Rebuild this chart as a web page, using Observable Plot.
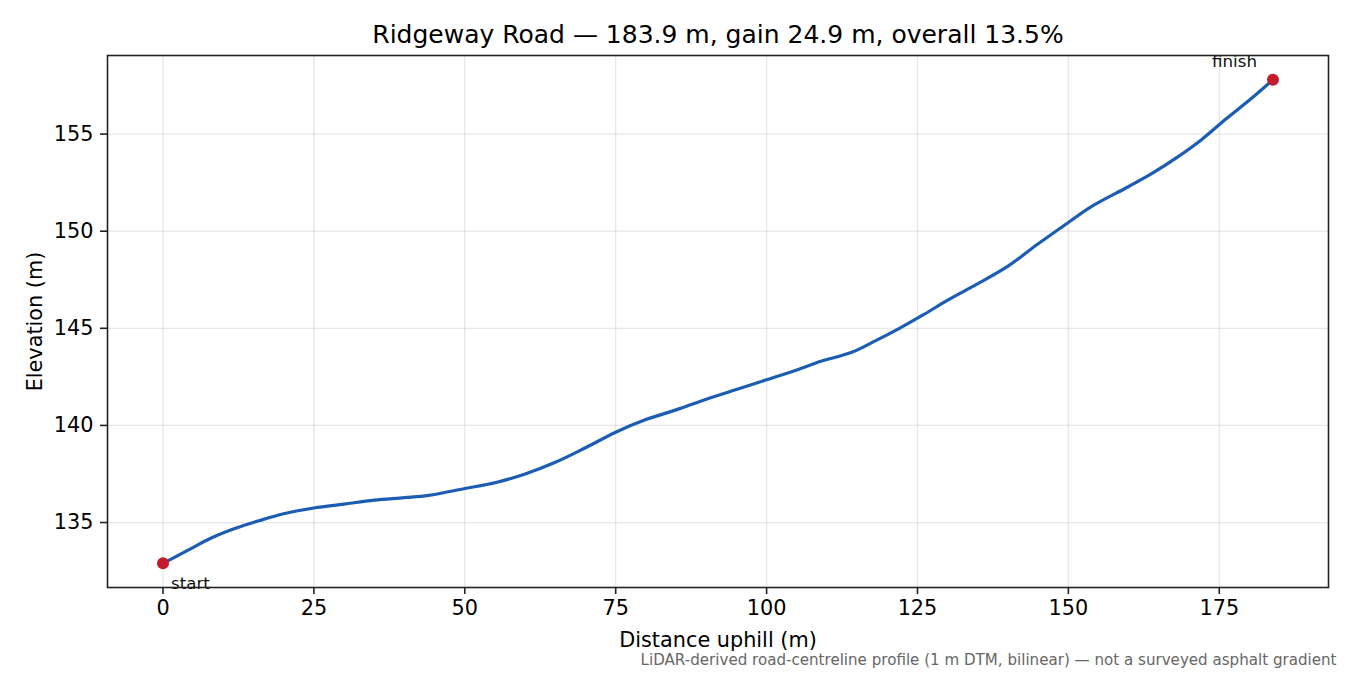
<!DOCTYPE html>
<html>
<head>
<meta charset="utf-8">
<script src="https://cdn.jsdelivr.net/npm/d3@7"></script>
<script src="https://cdn.jsdelivr.net/npm/@observablehq/plot@0.6"></script>
<style>
  html, body { margin: 0; padding: 0; background: #fff; }
  svg { display: block; }
</style>
</head>
<body>
<div id="chart"></div>
<script>
const distance = [0, 4, 8, 12, 16, 20, 25, 30, 35, 40, 44, 50, 55, 60, 65, 70, 75, 80, 85, 90, 95, 100, 105, 109, 114, 118, 122, 126, 130, 135, 140, 145, 150, 154, 160, 164, 168, 172, 176, 180, 183.9];
const elevation = [132.9, 133.55, 134.2, 134.7, 135.1, 135.45, 135.75, 135.95, 136.15, 136.28, 136.4, 136.75, 137.05, 137.5, 138.1, 138.85, 139.65, 140.3, 140.8, 141.35, 141.85, 142.35, 142.85, 143.3, 143.75, 144.35, 145.0, 145.7, 146.45, 147.3, 148.2, 149.35, 150.45, 151.3, 152.3, 153.0, 153.8, 154.7, 155.75, 156.75, 157.8];
const xTicks = [0, 25, 50, 75, 100, 125, 150, 175];
const yTicks = [135, 140, 145, 150, 155];
const endpointLabels = ["start", "finish"];
const titleText = "Ridgeway Road — 183.9 m, gain 24.9 m, overall 13.5%";
const xLabel = "Distance uphill (m)";
const yLabel = "Elevation (m)";
const captionText = "LiDAR-derived road-centreline profile (1 m DTM, bilinear) — not a surveyed asphalt gradient";

const profile = distance.map((d, i) => ({d, e: elevation[i]}));
const n = profile.length;
const startPt = {...profile[0], label: endpointLabels[0]};
const finishPt = {...profile[n - 1], label: endpointLabels[1]};

const dMin = d3.min(distance), dMax = d3.max(distance);
const eMin = d3.min(elevation), eMax = d3.max(elevation);
const xPad = (dMax - dMin) * 0.05, yPad = (eMax - eMin) * 0.05;

const chart = Plot.plot({
  width: 1350,
  height: 675,
  marginTop: 55,
  marginBottom: 88,
  marginLeft: 107,
  marginRight: 22,
  style: {fontFamily: "DejaVu Sans", fontSize: "20.8px", color: "#000", background: "#fff"},
  x: {domain: [dMin - xPad, dMax + xPad]},
  y: {domain: [eMin - yPad, eMax + yPad]},
  marks: [
    Plot.gridX(xTicks, {stroke: "#b0b0b0", strokeOpacity: 0.3, strokeWidth: 1.3}),
    Plot.gridY(yTicks, {stroke: "#b0b0b0", strokeOpacity: 0.3, strokeWidth: 1.3}),
    Plot.axisX(xTicks, {tickSize: 7, tickPadding: 6, label: null, fontSize: 20.8, strokeWidth: 1.6, stroke: "#222"}),
    Plot.axisY(yTicks, {tickSize: 7, tickPadding: 7, label: null, fontSize: 20.8, strokeWidth: 1.6, stroke: "#222"}),
    Plot.line(profile, {x: "d", y: "e", stroke: "#1b5db3", strokeWidth: 3.2, curve: "catmull-rom"}),
    Plot.dot([startPt, finishPt], {x: "d", y: "e", r: 6, fill: "#c21b2b", stroke: "none"}),
    Plot.text([startPt], {x: "d", y: "e", text: "label", textAnchor: "start", dx: 8, dy: 20, fontSize: 16.7, fill: "#111"}),
    Plot.text([finishPt], {x: "d", y: "e", text: "label", textAnchor: "end", dx: -16, dy: -18, fontSize: 16.7, fill: "#111"}),
    Plot.frame({stroke: "#222", strokeWidth: 1.6}),
    Plot.text([titleText], {frameAnchor: "top", lineAnchor: "middle", dy: -21, fontSize: 25, fill: "#000"}),
    Plot.text([xLabel], {frameAnchor: "bottom", lineAnchor: "middle", dy: 53, fontSize: 20.8, fill: "#000"}),
    Plot.text([yLabel], {frameAnchor: "left", textAnchor: "middle", lineAnchor: "middle", dx: -72, rotate: -90, fontSize: 20.8, fill: "#000"}),
    Plot.text([captionText], {frameAnchor: "bottom-right", textAnchor: "end", lineAnchor: "middle", dx: 8, dy: 73, fontSize: 15.1, fill: "#666"})
  ]
});
document.getElementById("chart").appendChild(chart);
</script>
</body>
</html>
